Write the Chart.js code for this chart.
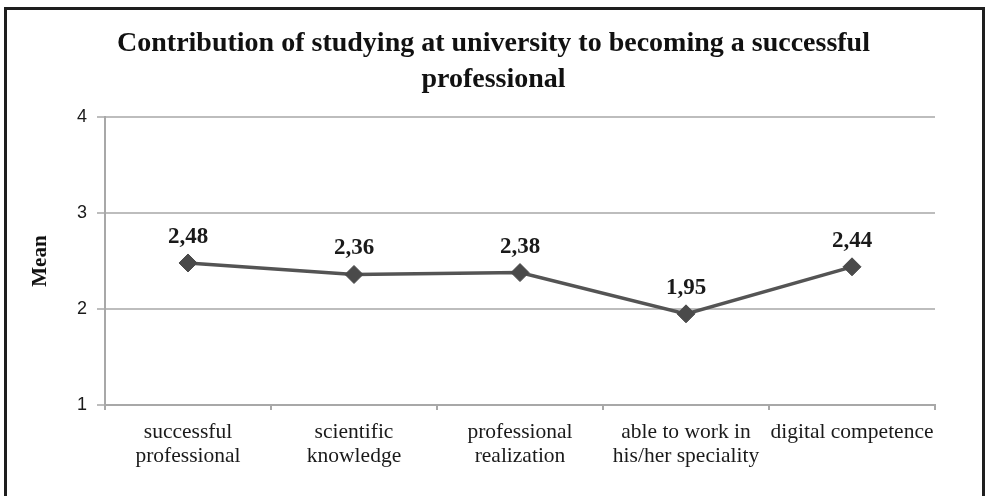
<!DOCTYPE html>
<html>
<head>
<meta charset="utf-8">
<script src="https://cdn.jsdelivr.net/npm/chart.js@4"></script>
<style>
  html, body { margin: 0; padding: 0; background: #fff; overflow: hidden; }
  #wrap { position: absolute; left: 0; top: 0; width: 987px; height: 496px; }
  #frame {
    position: absolute; left: 4px; top: 7px; width: 975px; height: 520px;
    border: 3px solid #1e1e1e; pointer-events: none;
  }
</style>
</head>
<body>
<div id="wrap">
  <canvas id="chart" width="987" height="496"></canvas>
  <div id="frame"></div>
</div>
<script>
// categories and mean scores
const categories = [
  ["successful", "professional"],
  ["scientific", "knowledge"],
  ["professional", "realization"],
  ["able to work in", "his/her speciality"],
  ["digital competence"]
];
const means = [2.48, 2.36, 2.38, 1.95, 2.44];
const yTicks = [1, 2, 3, 4];

const serif = "'Liberation Serif', 'Times New Roman', serif";
const sans = "'Liberation Sans', Arial, sans-serif";

// writes the value above each marker, with a decimal comma
const valueLabels = {
  id: "valueLabels",
  afterDatasetsDraw(chart) {
    const ctx = chart.ctx;
    const meta = chart.getDatasetMeta(0);
    ctx.save();
    ctx.font = "bold 23px " + serif;
    ctx.fillStyle = "#1a1a1a";
    ctx.textAlign = "center";
    ctx.textBaseline = "middle";
    meta.data.forEach((pt, i) => {
      const v = chart.data.datasets[0].data[i];
      ctx.fillText(v.toFixed(2).replace(".", ","), pt.x, pt.y - 26);
    });
    ctx.restore();
  }
};

new Chart(document.getElementById("chart"), {
  type: "line",
  data: {
    labels: categories,
    datasets: [{
      label: "Mean",
      data: means,
      borderColor: "#545454",
      borderWidth: 3.5,
      pointStyle: "rectRot",
      pointRadius: 9,
      pointHoverRadius: 9,
      pointBackgroundColor: "#4a4a4a",
      pointBorderColor: "#4a4a4a",
      pointBorderWidth: 1,
      tension: 0
    }]
  },
  options: {
    responsive: false,
    animation: false,
    layout: { padding: 0 },
    plugins: {
      legend: { display: false },
      tooltip: { enabled: false },
      title: {
        display: true,
        text: ["Contribution of studying at university to becoming a successful", "professional"],
        color: "#111",
        font: { family: serif, size: 28, weight: "bold", lineHeight: 1.27 },
        padding: { top: 26, bottom: 20 }
      }
    },
    scales: {
      x: {
        offset: true,
        afterFit(scale) { scale.height = 91; },
        grid: {
          offset: true,
          drawOnChartArea: false,
          drawTicks: true,
          tickLength: 5,
          color: "#a8a8a8",
          lineWidth: 2
        },
        border: { color: "#a8a8a8", width: 2 },
        ticks: {
          color: "#1a1a1a",
          font: { family: serif, size: 21.5, lineHeight: 1.12 },
          padding: 10,
          maxRotation: 0,
          autoSkip: false
        }
      },
      y: {
        min: 1,
        max: 4,
        afterBuildTicks(scale) {
          scale.ticks = yTicks.map(v => ({ value: v }));
        },
        afterFit(scale) { scale.width = 105; },
        grid: {
          color: "#bdbdbd",
          lineWidth: 2,
          tickLength: 8
        },
        border: { color: "#a8a8a8", width: 2 },
        ticks: {
          color: "#1a1a1a",
          font: { family: sans, size: 18 },
          padding: 10
        },
        title: {
          display: true,
          text: "Mean",
          color: "#111",
          font: { family: serif, size: 21, weight: "bold" },
          padding: { top: 28, bottom: 0 }
        }
      },
      // empty right-hand axis that only reserves the margin
      yRight: {
        position: "right",
        afterFit(scale) { scale.width = 52; },
        grid: { display: false },
        border: { display: false },
        ticks: { display: false }
      }
    }
  },
  plugins: [valueLabels]
});
</script>
</body>
</html>
